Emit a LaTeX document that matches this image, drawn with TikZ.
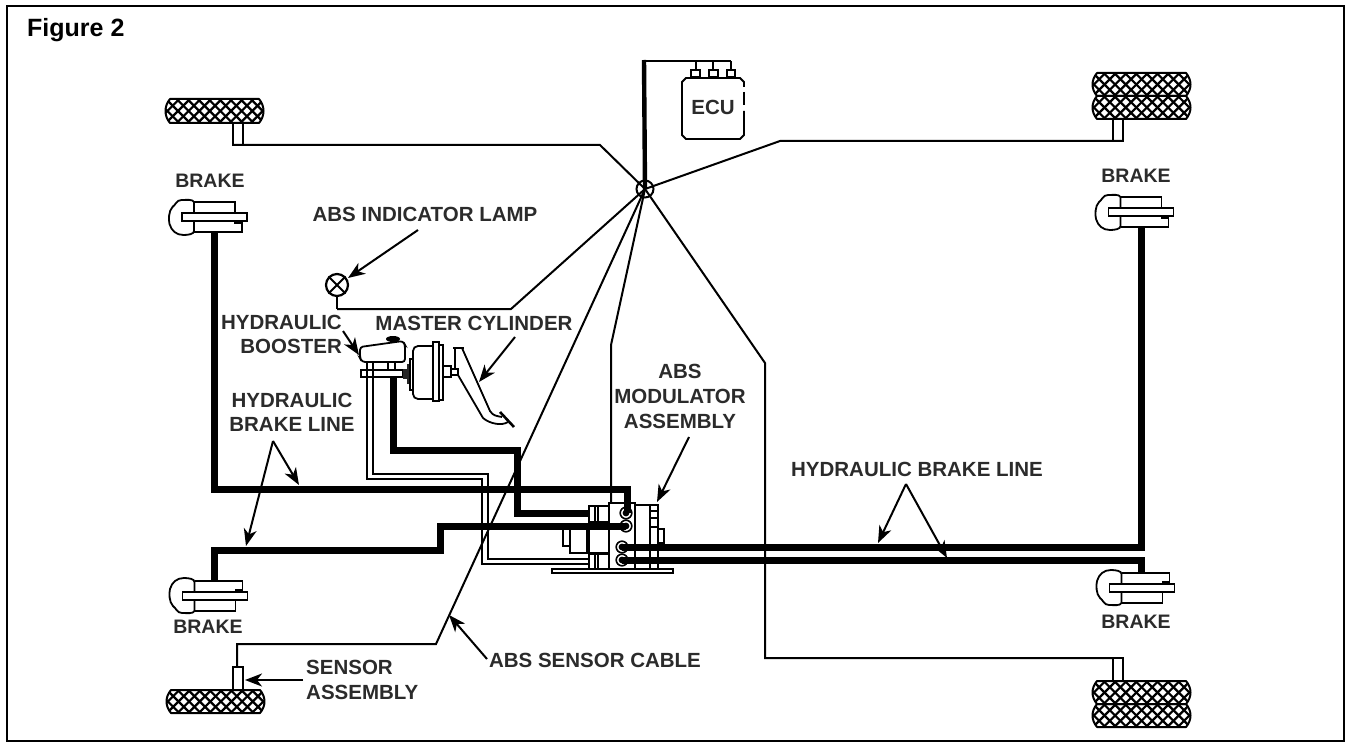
\documentclass[tikz,border=0pt]{standalone}
\usepackage{fontspec}
\setmainfont{Liberation Sans}
\usetikzlibrary{arrows.meta}
\definecolor{lbl}{HTML}{2B2B2B}
\newcommand{\tireshape}[4]{%
  \begin{scope}
    \clip (#1+5,#2) -- (#3-5,#2) .. controls (#3+1,#2+7) and (#3+1,#4-7) .. (#3-5,#4) -- (#1+5,#4) .. controls (#1-1,#4-7) and (#1-1,#2+7) .. (#1+5,#2) -- cycle;
    \foreach \k in {-3,...,11} {
      \draw[hatch] ({#1+\k*10.6},#2-1) -- ({#1+\k*10.6+#4-#2+2},#4+1);
      \draw[hatch] ({#1+\k*10.6+#4-#2+2},#2-1) -- ({#1+\k*10.6},#4+1);
    }
  \end{scope}
  \draw[wline] (#1+5,#2) -- (#3-5,#2) .. controls (#3+1,#2+7) and (#3+1,#4-7) .. (#3-5,#4) -- (#1+5,#4) .. controls (#1-1,#4-7) and (#1-1,#2+7) .. (#1+5,#2) -- cycle;
}
\tikzset{
  wline/.style={line width=2pt,black,line join=round},
  thin line/.style={line width=1.8pt,black},
  hatch/.style={line width=2.2pt,black},
  cable/.style={line width=2pt,black,line join=miter},
  brakeline/.style={line width=7pt,black,line join=miter},
  pipeline/.style={line width=1.9pt,black,line join=miter},
  callout/.style={line width=2pt,black,-{Stealth[length=17pt,width=13pt,inset=5pt]}},
  lab/.style={text=lbl,font=\fontsize{20.5}{24}\selectfont\bfseries,inner sep=0pt,align=center},
  brakelab/.style={text=lbl,font=\fontsize{19.5}{24}\selectfont\bfseries,inner sep=0pt,align=center},
  caliper/.pic={
    \draw[line width=1.8pt,black,fill=white] (-32.5,-4) rectangle (32.5,4);
    \draw[line width=1.8pt,black] (-20.5,-15) -- (20.5,-15) -- (20.5,-4);
    \draw[line width=1.8pt,black] (20.5,4) -- (20.5,6) -- (27.5,6) -- (27.5,15) -- (-20.5,15);
    \draw[line width=1.8pt,black] (-20.5,-4) -- (-20.5,-15) .. controls (-22,-18) and (-28,-17) .. (-33,-17) .. controls (-38,-17) and (-39,-12) .. (-42,-10) .. controls (-46,-6) and (-46,3) .. (-45,7) .. controls (-43,14) and (-38,18) .. (-31,18) .. controls (-26,18) and (-20.5,17) .. (-20.5,14) -- (-20.5,4);
  },
  port/.pic={
    \draw[line width=1.6pt,black] (0,0) circle (5.8);
    \fill[black] (0,0) circle (3.4);
  }
}
\begin{document}
\begin{tikzpicture}[x=1pt,y=-1pt]
\useasboundingbox (0,0) rectangle (1351,746);
\draw[line width=2.2pt,black] (7,6) rectangle (1344,741);
\node[anchor=west,inner sep=0pt,font=\fontsize{25}{30}\selectfont\bfseries] (title) at (27,30) {Figure 2};

% hub and named routing points
\node[draw,circle,line width=2pt,minimum size=17pt,inner sep=0pt] (hub) at (645,189) {};
\coordinate (flstem) at (233,145);
\coordinate (flbend) at (600,145);
\coordinate (frstem) at (1123,141);
\coordinate (frbend) at (780,141);
\coordinate (rrstem) at (1113,658);
\coordinate (rrbend) at (765,658);
\coordinate (rrbendb) at (765,363);
\coordinate (rlstem) at (237,667);
\coordinate (rlbend) at (237,644);
\coordinate (rlbendb) at (436,644);
\coordinate (lampdrop) at (337,309);
\coordinate (lampbend) at (511,309);
\coordinate (modtop) at (611,503);
\coordinate (modbend) at (611,345);
\coordinate (ecucorner) at (644,61);
\coordinate (ecuend) at (731,61);

% tyres
\tireshape{165}{99}{264}{123}
\tireshape{166}{690}{265}{713}
\tireshape{1092}{73}{1191}{96}
\tireshape{1092}{96}{1191}{119}
\tireshape{1092}{681}{1191}{704}
\tireshape{1092}{704}{1191}{727}
\draw[thin line] (233,123) rectangle (243,145);
\draw[thin line] (1113,119) rectangle (1123,141);
\draw[thin line] (1113,658) rectangle (1123,681);
\draw[thin line] (233,667) rectangle (243,690);

% calipers
\pic at (214.5,217) {caliper};
\pic at (1141,212) {caliper};
\pic[yscale=-1] at (215,596) {caliper};
\pic[yscale=-1] at (1142,588) {caliper};

% ECU
\draw[thin line] (691,70) rectangle (700,77);
\draw[thin line] (709,70) rectangle (718,77);
\draw[thin line] (727,70) rectangle (735,77);
\draw[thin line] (696,61) -- (696,70);
\draw[thin line] (713,61) -- (713,70);
\draw[thin line] (731,61) -- (731,70);
\draw[thin line] (744,87) -- (744,82) -- (740,78) -- (686,78) -- (682,82) -- (682,135) -- (686,139) -- (740,139) -- (744,135) -- (744,111);
\draw[thin line] (744,92) -- (744,105);
\node[lab] (ecu) at (713,107) {ECU};

% master cylinder, booster, pedal
\draw[pipeline] (367,362) -- (367,479) -- (482,479) -- (482,564) -- (590,564);
\draw[pipeline] (373,362) -- (373,474) -- (488,474) -- (488,559) -- (590,559);
\draw[thin line] (388,362) -- (388,370) (395,362) -- (395,370);
\draw[thin line,rounded corners=3pt] (360,347) -- (403,341) -- (405,345) -- (405,362) -- (362,362) -- (360,358) -- cycle;
\fill[black] (393,339) ellipse (7 and 3);
\draw[thin line] (361,370) rectangle (403,377);
\fill[black!85] (403,369) rectangle (407,379);
\fill[black!85] (407,364) rectangle (410,384);
\draw[thin line] (410,359) rectangle (413,390);
\draw[thin line,rounded corners=5pt] (433,346) -- (413,346) -- (413,399) -- (433,399);
\draw[thin line] (433,342) rectangle (439,401);
\draw[thin line] (439,345) rectangle (443,400);
\draw[thin line] (443,366) rectangle (451,377);
\draw[thin line] (451,369) rectangle (458,375);
\draw[thin line] (453,348) -- (464,348);
\draw[thin line] (455,348) -- (455,370);
\draw[thin line] (462,348) -- (490,411) .. controls (493,416) and (497,416) .. (502,417);
\draw[thin line] (458,375) -- (483,418) .. controls (490,424) and (502,426) .. (508,422);
\draw[line width=2.6pt,black] (500,412) -- (514,427);

% modulator
\draw[thin line] (552,569) rectangle (673,573);
\draw[thin line] (589,506) rectangle (609,522);
\draw[thin line] (595,506) -- (595,522) (598,506) -- (598,522);
\draw[thin line] (589,554) rectangle (609,569);
\draw[thin line] (595,554) -- (595,569) (598,554) -- (598,569);
\draw[thin line] (563,528) rectangle (570,546);
\draw[thin line] (570,524) rectangle (609,553);
\draw[thin line] (587,524) -- (587,553) (589,524) -- (589,553);
\draw[thin line] (658,529) -- (664,529) -- (664,543) -- (658,543);
\draw[thin line] (609,503) rectangle (635,569);
\draw[thin line] (635,505) rectangle (658,569);
\draw[thin line] (650,505) -- (650,569);
\draw[thin line] (650,511) -- (658,511) (650,518) -- (658,518) (650,527) -- (658,527);

% thin cables
\draw[cable] (flstem) -- (flbend) -- (hub.center);
\draw[cable] (frstem) -- (frbend) -- (hub.center);
\draw[cable] (rrstem) -- (rrbend) -- (rrbendb) -- (hub.center);
\draw[cable] (rlstem) -- (rlbend) -- (rlbendb) -- (hub.center);
\draw[cable] (lampdrop) -- (lampbend) -- (hub.center);
\draw[cable] (modtop) -- (modbend) -- (hub.center);
\draw[line width=4.4pt,black] (hub.center) -- (644,60);
\draw[line width=2.6pt,black] (ecucorner) -- (ecuend);

% lamp
\node[draw,circle,line width=2.2pt,minimum size=22pt,inner sep=0pt] (lamp) at (337,285) {};
\draw[line width=1.8pt] (lamp.north west) -- (lamp.south east) (lamp.north east) -- (lamp.south west);
\draw[cable] (lamp.south) -- (lampdrop);

% hydraulic lines
\draw[brakeline] (214,232) -- (214,489) -- (627,489) -- (627,513);
\draw[brakeline] (393,377) -- (393,450) -- (517,450) -- (517,513) -- (590,513);
\draw[brakeline] (214,581) -- (214,550) -- (440,550) -- (440,526) -- (626,526);
\draw[brakeline] (622,547) -- (1141,547) -- (1141,227);
\draw[brakeline] (622,560) -- (1141,560) -- (1141,573);
\pic at (626,513) {port};
\pic at (626,526) {port};
\pic at (622,547) {port};
\pic at (622,560) {port};

% labels
\node[brakelab] (b1) at (210,181) {BRAKE};
\node[brakelab] (b2) at (1136,176) {BRAKE};
\node[brakelab] (b3) at (208,627) {BRAKE};
\node[brakelab] (b4) at (1136,622) {BRAKE};
\node[lab] (lamplabel) at (425,214) {ABS INDICATOR LAMP};
\node[lab,anchor=east] (boost1) at (342,322) {HYDRAULIC};
\node[lab,anchor=east] (boost2) at (342,346) {BOOSTER};
\node[lab] (mc) at (474,323) {MASTER CYLINDER};
\node[lab] (hl1) at (292,400) {HYDRAULIC};
\node[lab] (hl2) at (292,424) {BRAKE LINE};
\node[lab] (m1) at (680,371) {ABS};
\node[lab] (m2) at (680,396) {MODULATOR};
\node[lab] (m3) at (680,421) {ASSEMBLY};
\node[lab] (hr) at (917,469) {HYDRAULIC BRAKE LINE};
\node[lab] (cab) at (595,660) {ABS SENSOR CABLE};
\node[lab,anchor=west] (s1) at (306,667) {SENSOR};
\node[lab,anchor=west] (s2) at (306,692) {ASSEMBLY};

% callouts
\coordinate (aLampT) at (418,230);
\coordinate (aLampH) at (348,278);
\coordinate (aBoostT) at (343,331);
\coordinate (aBoostH) at (359,355);
\coordinate (aMcT) at (515,337);
\coordinate (aMcH) at (479,382);
\coordinate (aModT) at (689,437);
\coordinate (aModH) at (657,502);
\coordinate (aLeft) at (273,441);
\coordinate (aLeftA) at (299,485);
\coordinate (aLeftB) at (246,546);
\coordinate (aRight) at (906,484);
\coordinate (aRightA) at (878,543);
\coordinate (aRightB) at (947,558);
\coordinate (aCabT) at (487,659);
\coordinate (aCabH) at (449,615);
\coordinate (aSenT) at (303,680);
\coordinate (aSenH) at (245,680);
\draw[callout] (aLampT) -- (aLampH);
\draw[callout] (aBoostT) -- (aBoostH);
\draw[callout] (aMcT) -- (aMcH);
\draw[callout] (aModT) -- (aModH);
\draw[callout] (aLeft) -- (aLeftA);
\draw[callout] (aLeft) -- (aLeftB);
\draw[callout] (aRight) -- (aRightA);
\draw[callout] (aRight) -- (aRightB);
\draw[callout] (aCabT) -- (aCabH);
\draw[callout] (aSenT) -- (aSenH);
\end{tikzpicture}
\end{document}
